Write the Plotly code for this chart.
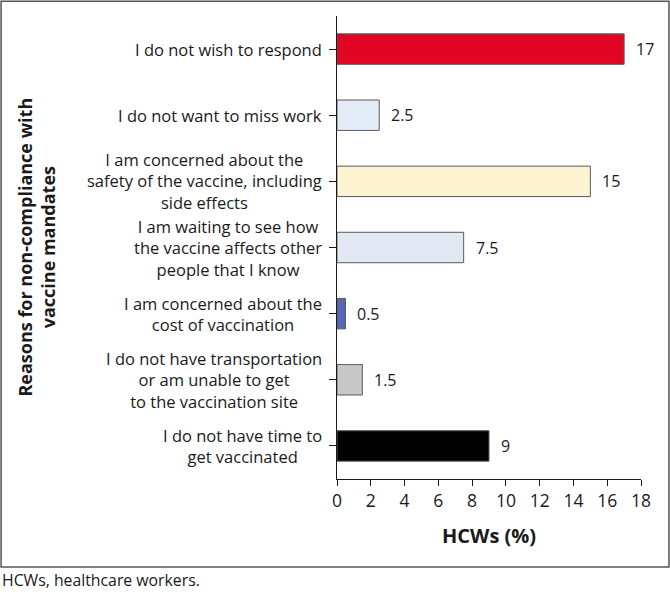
import plotly.graph_objects as go

reasons = [
    "I do not have time to<br>get vaccinated",
    "I do not have transportation<br>or am unable to get<br>to the vaccination site",
    "I am concerned about the<br>cost of vaccination",
    "I am waiting to see how<br>the vaccine affects other<br>people that I know",
    "I am concerned about the<br>safety of the vaccine, including<br>side effects",
    "I do not want to miss work",
    "I do not wish to respond",
]
percent = [9, 1.5, 0.5, 7.5, 15, 2.5, 17]
value_labels = ["9", "1.5", "0.5", "7.5", "15", "2.5", "17"]
bar_colors = ["#000000", "#C8C8C8", "#5A67B8", "#E3E7F3", "#FDF4D2", "#E3EBF7", "#E10523"]
x_ticks = [0, 2, 4, 6, 8, 10, 12, 14, 16, 18]

FONT = "Open Sans"

fig = go.Figure()
fig.add_trace(go.Bar(
    y=list(range(len(reasons))),
    x=percent,
    orientation="h",
    width=0.46,
    marker=dict(color=bar_colors, line=dict(color="#5a5a5a", width=1)),
    hoverinfo="skip",
))

annotations = []
for i, (r, v, t) in enumerate(zip(reasons, percent, value_labels)):
    annotations.append(dict(
        x=0, xref="paper", y=i, yref="y", text=r, showarrow=False,
        xanchor="right", yanchor="middle", align="center", xshift=-13,
        font=dict(family=FONT, size=16.5, color="#1a1a1a"),
    ))
    annotations.append(dict(
        x=v, xref="x", y=i, yref="y", text=t, showarrow=False,
        xanchor="left", yanchor="middle", xshift=10,
        font=dict(family=FONT, size=16, color="#1a1a1a"),
    ))

annotations.append(dict(
    x=-0.99, xref="paper", y=0.5, yref="paper",
    text="<b>Reasons for non-compliance with<br>vaccine mandates</b>",
    textangle=-90, showarrow=False, xanchor="center", yanchor="middle",
    align="center", font=dict(family=FONT, size=18, color="#1a1a1a"),
))
annotations.append(dict(
    x=0.5, xref="paper", y=-0.121, yref="paper",
    text="<b>HCWs (%)</b>", showarrow=False, xanchor="center", yanchor="middle",
    font=dict(family=FONT, size=20, color="#1a1a1a"),
))
annotations.append(dict(
    x=-1.108, xref="paper", y=-0.218, yref="paper",
    text="HCWs, healthcare workers.", showarrow=False, xanchor="left", yanchor="middle",
    font=dict(family=FONT, size=15.8, color="#1a1a1a"),
))

fig.update_layout(
    width=670, height=596,
    margin=dict(l=337, r=29, t=16, b=117),
    paper_bgcolor="white", plot_bgcolor="white",
    showlegend=False,
    annotations=annotations,
    shapes=[dict(type="rect", xref="paper", yref="paper",
                 x0=-1.105, x1=1.092, y0=-0.190, y1=1.032,
                 line=dict(color="#555555", width=1.5), fillcolor="rgba(0,0,0,0)")],
    xaxis=dict(
        range=[0, 18], tickvals=x_ticks, ticks="outside", ticklen=6,
        tickcolor="#1a1a1a", showline=True, linecolor="#1a1a1a", linewidth=1.2,
        showgrid=False, zeroline=False,
        tickfont=dict(family=FONT, size=17.5, color="#1a1a1a"),
    ),
    yaxis=dict(
        range=[-0.5, 6.5], tickvals=list(range(len(reasons))),
        ticktext=[""] * len(reasons), tickson="boundaries",
        ticks="outside", ticklen=7, tickcolor="#1a1a1a",
        showline=True, linecolor="#1a1a1a", linewidth=1.2,
        showgrid=False, zeroline=False,
    ),
)

fig.write_html("out.html")
